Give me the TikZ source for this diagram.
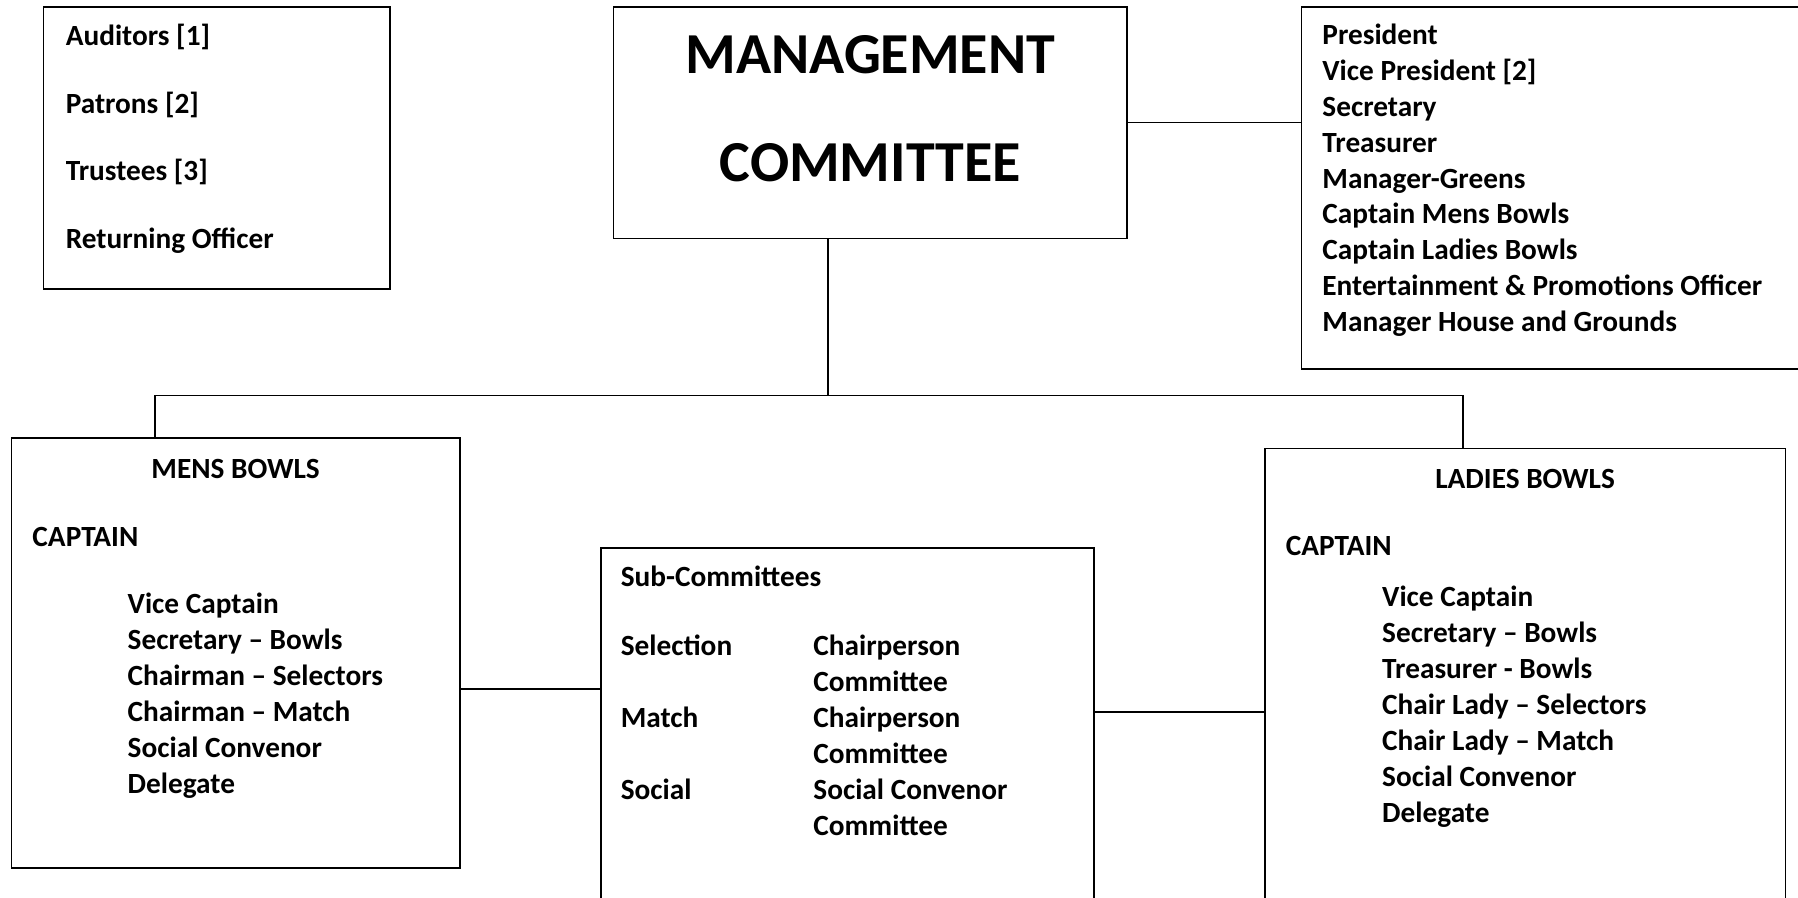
\documentclass[tikz,border=0pt]{standalone}
\usepackage{fontspec}
\setmainfont{Carlito}
\usetikzlibrary{fit}
\newcommand{\pxsize}{0.5pt}
\newcommand{\bodyfont}{\fontsize{14.65}{17.9}\selectfont\bfseries}
\newcommand{\headfont}{\fontsize{29}{35}\selectfont\bfseries}
\tikzset{
	box/.style={draw, line width=0.8pt, inner sep=0pt},
	txt/.style={anchor=base west, inner sep=0pt, font=\bodyfont},
	head/.style={anchor=base, inner sep=0pt, font=\bodyfont},
	link/.style={line width=0.8pt}
}

\begin{document}
\begin{tikzpicture}[x=\pxsize,y=-\pxsize]
	\useasboundingbox (0,0) rectangle (1798,898);
	\clip (0,0) rectangle (1798,898);

	% boxes
	\node[box, fit={(43.6,6.9) (389.9,289)}] (extra) {};
	\node[box, fit={(613.5,6.9) (1127.2,238.5)}] (mgmt) {};
	\node[box, fit={(1301.5,6.9) (1810,369.2)}] (officers) {};
	\node[box, fit={(11.5,438) (459.8,868)}] (mens) {};
	\node[box, fit={(600.9,548) (1094,910)}] (subcom) {};
	\node[box, fit={(1264.8,448.4) (1785.4,910)}] (ladies) {};

	% management committee
	\node[head, font=\headfont] (mgmt-1) at (870.3,73.7) {MANAGEMENT};
	\node[head, font=\headfont] (mgmt-2) at (870.3,181.7) {COMMITTEE};

	% auditors etc
	\foreach \t [count=\i from 0] in {Auditors [1], Patrons [2], Trustees [3], Returning Officer}
		\node[txt] (extra-\i) at (65.4, 45.5+67.7*\i) {\t};

	% office bearers
	\foreach \t [count=\i from 0] in {President, Vice President [2], Secretary, Treasurer,
		Manager-Greens, Captain Mens Bowls, Captain Ladies Bowls,
		Entertainment \& Promotions Officer, Manager House and Grounds}
		\node[txt] (off-\i) at (1322, 45+35.8*\i) {\t};

	% mens bowls
	\node[head] (mens-head) at (235.6,478.4) {MENS BOWLS};
	\node[txt] (mens-capt) at (32.1,546) {CAPTAIN};
	\foreach \t [count=\i from 0] in {Vice Captain, Secretary – Bowls, Chairman – Selectors,
		Chairman – Match, Social Convenor, Delegate}
		\node[txt] (mens-\i) at (127.3, 613.7+36*\i) {\t};

	% sub-committees
	\node[txt] (sub-head) at (620.4,586.2) {Sub-Committees};
	\foreach \t [count=\i from 0] in {Selection, Match, Social}
		\node[txt] (subname-\i) at (620.4, 655+72*\i) {\t};
	\foreach \t [count=\i from 0] in {Chairperson, Committee, Chairperson, Committee,
		Social Convenor, Committee}
		\node[txt] (subrole-\i) at (813, 655+36*\i) {\t};

	% ladies bowls
	\node[head] (lady-head) at (1525.1,488.7) {LADIES BOWLS};
	\node[txt] (lady-capt) at (1285.5,555.2) {CAPTAIN};
	\foreach \t [count=\i from 0] in {Vice Captain, Secretary – Bowls, Treasurer - Bowls,
		Chair Lady – Selectors, Chair Lady – Match, Social Convenor, Delegate}
		\node[txt] (lady-\i) at (1381.8, 606.8+35.9*\i) {\t};

	% connectors
	\coordinate (busM) at (828,395.6);
	\coordinate (busL) at (154.8,395.6);
	\coordinate (busR) at (1463.2,395.6);
	\coordinate (menslink) at (0,689.2);
	\coordinate (ladylink) at (0,712.1);

	\draw[link] (mgmt.east) -- (mgmt.east -| officers.west);
	\draw[link] (busM |- mgmt.south) -- (busM);
	\draw[link] (busL |- mens.north) -- (busL) -- (busR) -- (busR |- ladies.north);
	\draw[link] (menslink -| mens.east) -- (menslink -| subcom.west);
	\draw[link] (ladylink -| subcom.east) -- (ladylink -| ladies.west);
\end{tikzpicture}
\end{document}
